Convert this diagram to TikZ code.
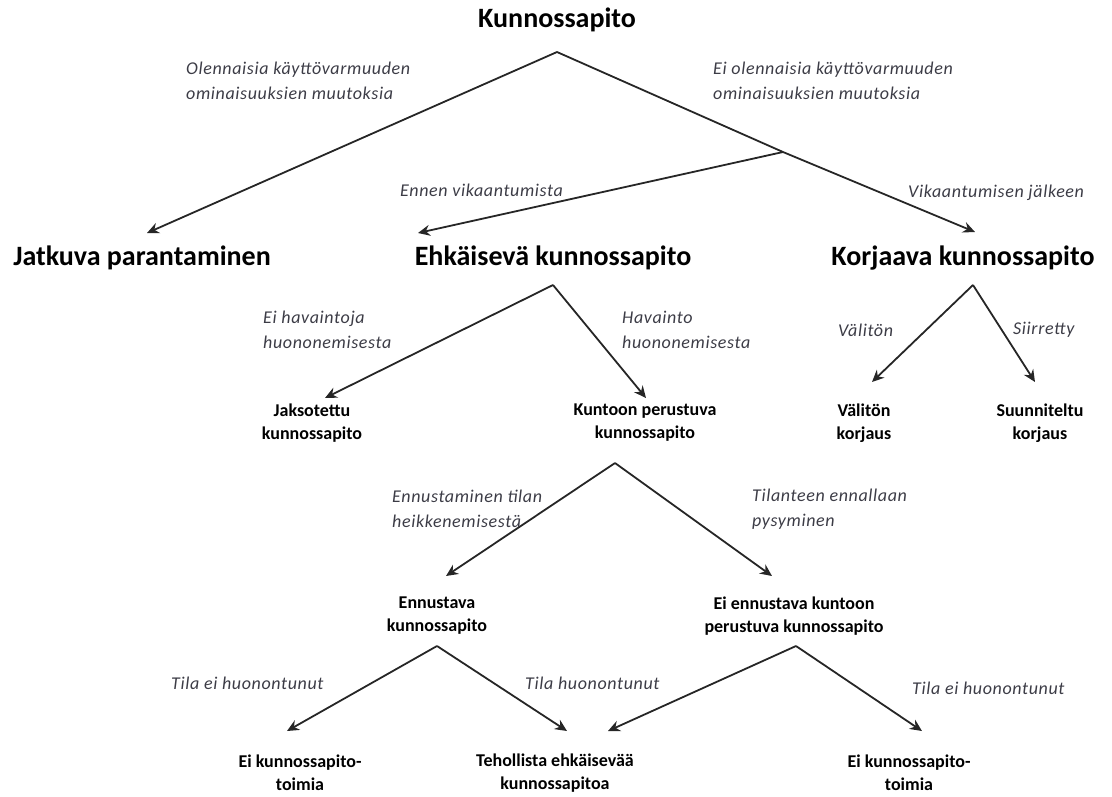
\documentclass[tikz,border=0pt]{standalone}
\usepackage{fontspec}
\setmainfont{Carlito}
\newfontfamily\labfont[LetterSpace=3.5]{Carlito}
\usetikzlibrary{arrows.meta}
\definecolor{labgray}{HTML}{3C3C46}
\definecolor{linegray}{HTML}{262626}
\begin{document}
\begin{tikzpicture}[x=1pt,y=-1pt,
  big/.style={font=\fontsize{28}{30}\selectfont\bfseries, inner sep=0pt},
  small/.style={font=\fontsize{18}{23}\selectfont\bfseries, align=center, inner sep=0pt},
  lab/.style={font=\labfont\fontsize{18}{25}\selectfont\itshape, text=labgray, align=left, inner sep=0pt, anchor=west},
  arr/.style={draw=linegray, line width=1.8pt, -{Stealth[length=12pt,width=11pt,inset=4pt]}},
  seg/.style={draw=linegray, line width=1.8pt}]
\useasboundingbox (0,0) rectangle (1112,796);

% main nodes
\node[big] (root) at (557,20) {Kunnossapito};
\node[big] (jatk) at (142,258) {Jatkuva parantaminen};
\node[big] (ehk) at (553,258) {Ehkäisevä kunnossapito};
\node[big] (korj) at (963,258) {Korjaava kunnossapito};

\node[small] (jaks) at (312,423) {Jaksotettu\\kunnossapito};
\node[small] (kunt) at (645,423) {Kuntoon perustuva\\kunnossapito};
\node[small] (valk) at (864,423) {Välitön\\korjaus};
\node[small] (suun) at (1040,423) {Suunniteltu\\korjaus};

\node[small] (ennk) at (437,616) {Ennustava\\kunnossapito};
\node[small] (eienn) at (794,616) {Ei ennustava kuntoon\\perustuva kunnossapito};

\node[small] (eik1) at (300,773) {Ei kunnossapito-\\toimia};
\node[small] (teh) at (555,773) {Tehollista ehkäisevää\\kunnossapitoa};
\node[small] (eik2) at (909,773) {Ei kunnossapito-\\toimia};

% branch points and arrow tips
\coordinate (rootB) at (557,52);
\coordinate (split) at (783,152);
\coordinate (tJatk) at (147,233);
\coordinate (tEhk) at (418,233);
\coordinate (tKorj) at (975,232);

\coordinate (ehkB) at (553,285);
\coordinate (tJaks) at (325,398);
\coordinate (tKunt) at (646,398);

\coordinate (korjB) at (973,285);
\coordinate (tVal) at (872,382);
\coordinate (tSuun) at (1035,382);

\coordinate (kuntB) at (615,463);
\coordinate (tEnn) at (446,576);
\coordinate (tEiE) at (772,576);

\coordinate (ennB) at (437,646);
\coordinate (tEik1) at (287,731);
\coordinate (tTeh1) at (567,731);

\coordinate (eiB) at (796,646);
\coordinate (tTeh2) at (608,731);
\coordinate (tEik2) at (922,731);

% connectors
\draw[seg] (rootB) -- (split);
\draw[arr] (rootB) -- (tJatk);
\draw[arr] (split) -- (tKorj);
\draw[arr] (split) -- (tEhk);

\draw[arr] (ehkB) -- (tJaks);
\draw[arr] (ehkB) -- (tKunt);
\draw[arr] (korjB) -- (tVal);
\draw[arr] (korjB) -- (tSuun);

\draw[arr] (kuntB) -- (tEnn);
\draw[arr] (kuntB) -- (tEiE);

\draw[arr] (ennB) -- (tEik1);
\draw[arr] (ennB) -- (tTeh1);
\draw[arr] (eiB) -- (tTeh2);
\draw[arr] (eiB) -- (tEik2);

% edge labels
\node[lab] (l1) at (186,81) {Olennaisia käyttövarmuuden\\ominaisuuksien muutoksia};
\node[lab] (l2) at (713,81) {Ei olennaisia käyttövarmuuden\\ominaisuuksien muutoksia};
\node[lab] (l3) at (400,190) {Ennen vikaantumista};
\node[lab] (l4) at (908,193) {Vikaantumisen jälkeen};
\node[lab] (l5) at (263,330) {Ei havaintoja\\huononemisesta};
\node[lab] (l6) at (622,330) {Havainto\\huononemisesta};
\node[lab] (l7) at (838,330) {Välitön};
\node[lab] (l8) at (1013,330) {Siirretty};
\node[lab] (l9) at (392,509) {Ennustaminen tilan\\heikkenemisestä};
\node[lab] (l10) at (752,509) {Tilanteen ennallaan\\pysyminen};
\node[lab] (l11) at (171,683) {Tila ei huonontunut};
\node[lab] (l12) at (525,683) {Tila huonontunut};
\node[lab] (l13) at (912,688) {Tila ei huonontunut};
\end{tikzpicture}
\end{document}
